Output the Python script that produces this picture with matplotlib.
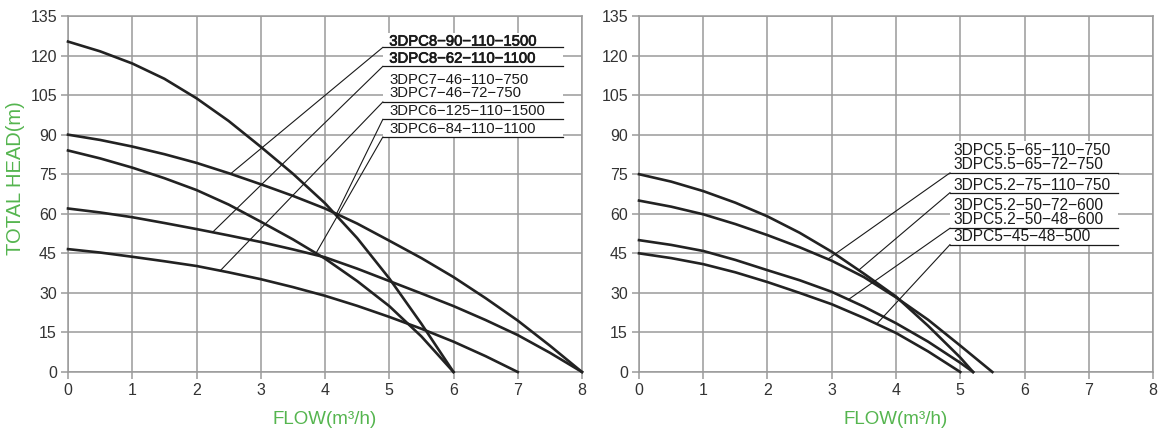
import numpy as np
import matplotlib
matplotlib.use('Agg')
from matplotlib import pyplot as plt
from matplotlib.patches import Rectangle
import matplotlib.patheffects as pe

plt.rcParams['font.family'] = ['Liberation Sans', 'DejaVu Sans']

GREEN = '#55b54f'
GRID = '#9a9a9a'
INK = '#222222'

# ---- left chart curves (flow m3/h, head m)
flow_a = [0, 0.5, 1, 1.5, 2, 2.5, 3, 3.5, 4, 4.5, 5, 5.5, 6]
head_a = [125.3, 121.6, 117, 111.2, 103.8, 95.2, 85.4, 75.2, 64, 50.8, 35.5, 18.3, 0]
flow_b = [0, 0.5, 1, 1.5, 2, 2.5, 3, 3.5, 4, 4.5, 5, 5.5, 6, 6.5, 7, 7.5, 8]
head_b = [90, 88, 85.5, 82.6, 79.3, 75.4, 71.2, 66.8, 62, 56.3, 49.8, 43.2,
          36, 28, 19.5, 10, 0]
flow_c = [0, 0.5, 1, 1.5, 2, 2.5, 3, 3.5, 4, 4.5, 5, 5.5, 6]
head_c = [84, 81, 77.5, 73.5, 69, 63.5, 57, 50.3, 43, 34.5, 25, 13.5, 0]
flow_d = [0, 0.5, 1, 1.5, 2, 2.5, 3, 3.5, 4, 4.5, 5, 5.5, 6, 6.5, 7, 7.5, 8]
head_d = [62, 60.5, 58.7, 56.5, 54.2, 51.8, 49.3, 46.5, 43.5, 39.2, 34.5, 29.8,
          25, 19.7, 14, 7.3, 0]
flow_e = [0, 0.5, 1, 1.5, 2, 2.5, 3, 3.5, 4, 4.5, 5, 5.5, 6, 6.5, 7]
head_e = [46.6, 45.3, 43.7, 42, 40.2, 37.8, 35.2, 32.2, 28.9, 25.1, 20.9, 16.4,
          11.5, 6, 0]

# ---- right chart curves
flow_f = [0, 0.5, 1, 1.5, 2, 2.5, 3, 3.5, 4, 4.5, 5, 5.2]
head_f = [75, 72.2, 68.6, 64.2, 59, 52.8, 45.6, 37.3, 28.6, 17.5, 5.5, 0]
flow_g = [0, 0.5, 1, 1.5, 2, 2.5, 3, 3.5, 4, 4.5, 5, 5.5]
head_g = [65, 62.7, 59.8, 56.1, 51.9, 47.3, 42.2, 36, 28.3, 19.8, 10, 0]
flow_h = [0, 0.5, 1, 1.5, 2, 2.5, 3, 3.5, 4, 4.5, 5, 5.2]
head_h = [50, 48.2, 45.9, 42.5, 38.6, 34.8, 30.4, 24.8, 18.5, 11.5, 3.5, 0]
flow_i = [0, 0.5, 1, 1.5, 2, 2.5, 3, 3.5, 4, 4.5, 5]
head_i = [45, 43.2, 40.9, 37.8, 34.1, 30, 25.7, 20.5, 14.8, 7.8, 0]

left_curves = {'A': (flow_a, head_a), 'B': (flow_b, head_b), 'C': (flow_c, head_c),
               'D': (flow_d, head_d), 'E': (flow_e, head_e)}
right_curves = {'F': (flow_f, head_f), 'G': (flow_g, head_g),
                'H': (flow_h, head_h), 'I': (flow_i, head_i)}

# ---- model labels: name, text baseline, bold
left_names = ['3DPC8−90−110−1500', '3DPC8−62−110−1100', '3DPC7−46−110−750',
              '3DPC7−46−72−750', '3DPC6−125−110−1500', '3DPC6−84−110−1100']
left_base = [123.8, 117.3, 109.4, 104.1, 97.4, 90.5]
left_bold = [True, True, False, False, False, False]
# underline height, curve it points at, flow where the leader meets it
left_lines = [(123.1, 'B', 2.53), (115.9, 'D', 2.25), (102.4, 'E', 2.37),
              (95.8, 'A', 4.17), (89.1, 'C', 3.86)]

right_names = ['3DPC5.5−65−110−750', '3DPC5.5−65−72−750', '3DPC5.2−75−110−750',
               '3DPC5.2−50−72−600', '3DPC5.2−50−48−600', '3DPC5−45−48−500']
right_base = [82.1, 76.8, 69.2, 61.6, 56.2, 49.6]
right_lines = [(75.5, 'G', 2.94), (68.0, 'F', 3.42), (54.5, 'H', 3.26),
               (48.3, 'I', 3.7)]

xticks = np.arange(0, 9, 1)
yticks = np.arange(0, 136, 15)


def style_axes(ax):
    ax.set_xlim(0, 8)
    ax.set_ylim(0, 135)
    ax.set_xticks(xticks)
    ax.set_yticks(yticks)
    ax.set_axisbelow(True)
    ax.grid(True, color=GRID, lw=1.1)
    for s in ax.spines.values():
        s.set_color(GRID)
        s.set_linewidth(1.1)
    ax.tick_params(direction='out', length=5, width=1.1, color=GRID,
                   labelcolor='#333333', labelsize=11.5, pad=3)
    ax.set_xlabel('FLOW(m³/h)', color=GREEN, fontsize=13.5, labelpad=9)


def draw_panel(ax, curves, names, bases, lines, box, x_under, x_text, fsize,
               bold=None):
    style_axes(ax)
    for key in curves:
        fl, hd = curves[key]
        ax.plot(fl, hd, color=INK, lw=1.9, solid_joinstyle='round',
                clip_on=False, zorder=3)
    # white panel behind the model list
    ax.add_patch(Rectangle((box[0], box[1]), box[2] - box[0], box[3] - box[1],
                           facecolor='white', edgecolor='none', zorder=1))
    for k, name in enumerate(names):
        t = ax.text(x_text, bases[k], name, fontsize=fsize, color='#1a1a1a',
                    va='baseline', ha='left', zorder=4)
        if bold is not None and bold[k]:
            t.set_path_effects([pe.withStroke(linewidth=0.5, foreground='#1a1a1a')])
    for yu, key, fx in lines:
        fl, hd = curves[key]
        fy = np.interp(fx, fl, hd)
        ax.plot([x_under, box[2]], [yu, yu], color='#1a1a1a', lw=0.9, zorder=4)
        ax.plot([x_under, fx], [yu, fy], color='#1a1a1a', lw=0.8, zorder=4)


fig = plt.figure(figsize=(11.66, 4.36), dpi=100)
ax1 = fig.add_axes([68 / 1166, 64 / 436, 514 / 1166, 356 / 436])
ax2 = fig.add_axes([639 / 1166, 64 / 436, 514 / 1166, 356 / 436])

draw_panel(ax1, left_curves, left_names, left_base, left_lines,
           (4.9, 88.6, 7.7, 128.5), 4.9, 5.0, 10.7, left_bold)
draw_panel(ax2, right_curves, right_names, right_base, right_lines,
           (4.84, 47.8, 7.46, 87.5), 4.84, 4.9, 11.2)

ax1.set_ylabel('TOTAL HEAD(m)', color=GREEN, fontsize=14.5)
ax1.yaxis.set_label_coords(-0.084, 0.545)

fig.savefig('out.png', dpi=100)
